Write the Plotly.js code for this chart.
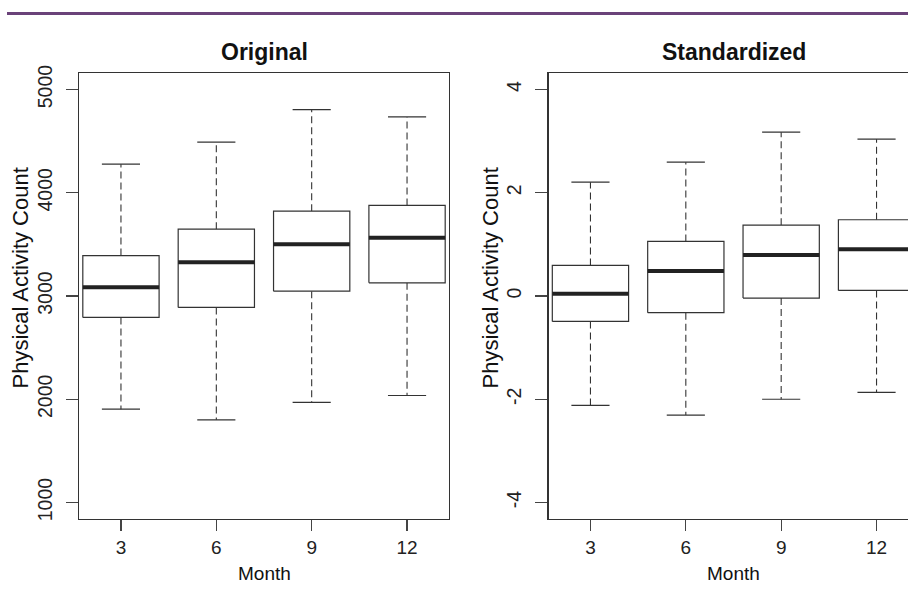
<!DOCTYPE html>
<html>
<head>
<meta charset="utf-8">
<script src="https://cdn.plot.ly/plotly-3.0.1.min.js"></script>
<style>
html, body { margin: 0; padding: 0; overflow: hidden; background: #fff; }
#chart { width: 930px; height: 604px; }
</style>
</head>
<body>
<div id="chart"></div>
<script>
// ---- data ----
var months = ["3", "6", "9", "12"];

// Original panel
var origUpper  = [4277, 4490, 4806, 4735];
var origQ3     = [3392, 3647, 3822, 3877];
var origMedian = [3085, 3327, 3502, 3564];
var origQ1     = [2792, 2889, 3047, 3128];
var origLower  = [1904, 1801, 1969, 2036];
var origTicks  = [1000, 2000, 3000, 4000, 5000];

// Standardized panel
var stdUpper  = [2.205, 2.593, 3.173, 3.038];
var stdQ3     = [0.592, 1.057, 1.373, 1.477];
var stdMedian = [0.044, 0.482, 0.792, 0.908];
var stdQ1     = [-0.492, -0.323, -0.041, 0.108];
var stdLower  = [-2.118, -2.306, -2.0, -1.867];
var stdTicks  = [-4, -2, 0, 2, 4];

// ---- build R-style boxplot traces ----
var W = 930, H = 604;
var BOXHALF = 0.4, STAPLEHALF = 0.2;
var lineCol = "#333333";

function boxTraces(up, q3, med, q1, lo, xa, ya) {
  var bx = [], by = [], mx = [], my = [], wx = [], wy = [], sx = [], sy = [];
  for (var i = 0; i < months.length; i++) {
    var c = i + 1;
    bx.push(c - BOXHALF, c + BOXHALF, c + BOXHALF, c - BOXHALF, c - BOXHALF, null);
    by.push(q1[i], q1[i], q3[i], q3[i], q1[i], null);
    mx.push(c - BOXHALF, c + BOXHALF, null);
    my.push(med[i], med[i], null);
    wx.push(c, c, null, c, c, null);
    wy.push(q3[i], up[i], null, q1[i], lo[i], null);
    sx.push(c - STAPLEHALF, c + STAPLEHALF, null, c - STAPLEHALF, c + STAPLEHALF, null);
    sy.push(up[i], up[i], null, lo[i], lo[i], null);
  }
  var common = {xaxis: xa, yaxis: ya, mode: "lines", hoverinfo: "skip", showlegend: false, type: "scatter"};
  return [
    Object.assign({}, common, {x: wx, y: wy, line: {color: lineCol, width: 1.1, dash: "7px,4px"}}),
    Object.assign({}, common, {x: sx, y: sy, line: {color: lineCol, width: 1.2}}),
    Object.assign({}, common, {x: bx, y: by, fill: "toself", fillcolor: "#ffffff", line: {color: lineCol, width: 1.2}}),
    Object.assign({}, common, {x: mx, y: my, line: {color: "#222222", width: 4}})
  ];
}

var data = []
  .concat(boxTraces(origUpper, origQ3, origMedian, origQ1, origLower, "x", "y"))
  .concat(boxTraces(stdUpper, stdQ3, stdMedian, stdQ1, stdLower, "x2", "y2"));

var fontFam = "Liberation Sans, Arial, Helvetica, sans-serif";
var xTickVals = months.map(function (m, i) { return i + 1; });

function xAxis(domain, anchor) {
  return {
    domain: domain, anchor: anchor, range: [0.56, 4.44],
    tickvals: xTickVals, ticktext: months,
    ticks: "outside", ticklen: 11, tickwidth: 1.1, tickcolor: "#444",
    showline: true, mirror: true, linecolor: lineCol, linewidth: 1.3,
    showgrid: false, zeroline: false,
    tickfont: {family: fontFam, size: 19, color: "#222"}
  };
}
function yAxis(range, ticks, anchor) {
  return {
    domain: [1 - 519 / H, 1 - 73 / H], anchor: anchor, range: range,
    tickvals: ticks, ticktext: ticks.map(String), tickangle: -90,
    ticks: "outside", ticklen: 12, tickwidth: 1.1, tickcolor: "#444",
    ticklabelstandoff: 6,
    showline: true, mirror: true, linecolor: lineCol, linewidth: 1.3,
    showgrid: false, zeroline: false,
    tickfont: {family: fontFam, size: 19.5, color: "#222"}
  };
}

function ann(text, px, py, size, bold, angle) {
  return {
    text: bold ? "<b>" + text + "</b>" : text,
    xref: "paper", yref: "paper", x: px / W, y: 1 - py / H,
    xanchor: "center", yanchor: "middle", showarrow: false, textangle: angle || 0,
    font: {family: fontFam, size: size, color: "#111"}
  };
}

var layout = {
  width: W, height: H,
  margin: {l: 0, r: 0, t: 0, b: 0},
  paper_bgcolor: "#fff", plot_bgcolor: "#fff",
  xaxis: xAxis([79 / W, 449 / W], "y"),
  yaxis: yAxis([840, 5160], origTicks, "x"),
  xaxis2: xAxis([548.5 / W, 918.5 / W], "y2"),
  yaxis2: yAxis([-4.32, 4.32], stdTicks, "x2"),
  shapes: [{
    type: "line", xref: "paper", yref: "paper",
    x0: 7 / W, x1: 1, y0: 1 - 13.5 / H, y1: 1 - 13.5 / H,
    line: {color: "#6a4279", width: 3}
  }],
  annotations: [
    ann("Original", 264, 52.5, 23, true),
    ann("Standardized", 733.5, 52.5, 23, true),
    ann("Month", 264, 573, 19, false),
    ann("Month", 733.5, 573, 19, false),
    ann("Physical Activity Count", 19.5, 278, 22, false, -90),
    ann("Physical Activity Count", 489.5, 278, 22, false, -90)
  ]
};

Plotly.newPlot("chart", data, layout, {staticPlot: true, displayModeBar: false});
</script>
</body>
</html>
